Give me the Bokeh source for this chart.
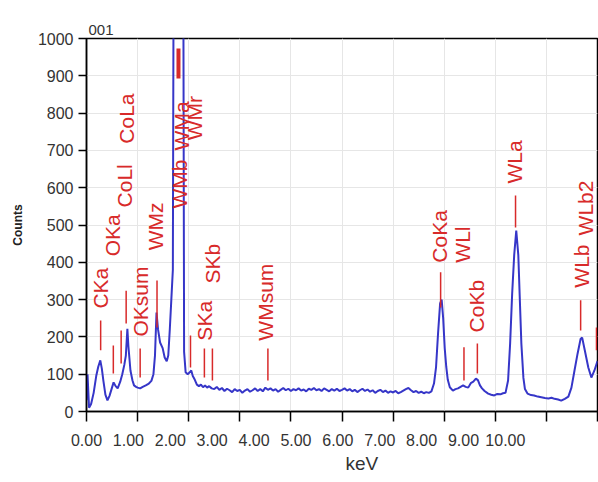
from math import pi
from bokeh.plotting import figure
from bokeh.models import Range1d, LinearAxis, FixedTicker, Title
from bokeh.core.properties import value
from bokeh.embed import file_html
from bokeh.resources import INLINE

# ---------------- data ----------------
lo_kev = [0.00, 0.02, 0.05, 0.09, 0.14, 0.19, 0.23, 0.27, 0.30, 0.33,
          0.37, 0.41, 0.45, 0.49, 0.53, 0.57, 0.61, 0.66, 0.70, 0.74,
          0.77, 0.80, 0.82, 0.86, 0.90, 0.93, 0.97, 1.00, 1.05, 1.10,
          1.16, 1.22, 1.27, 1.31, 1.34, 1.37, 1.40, 1.44, 1.49, 1.53,
          1.57, 1.60, 1.63, 1.66, 1.69, 1.71, 1.74, 1.78, 1.82, 1.86,
          1.89, 1.91, 1.94, 1.98, 2.02, 2.05, 2.08, 2.12, 2.16, 2.20,
          2.24, 2.28, 2.32, 2.36, 2.40, 2.45, 2.50]
lo_counts = [30, 100, 10, 20, 50, 95, 120, 137, 115, 83,
             45, 30, 42, 60, 78, 68, 62, 80, 100, 125,
             150, 222, 175, 110, 83, 70, 66, 64, 62, 66,
             70, 75, 82, 100, 150, 265, 220, 185, 170, 145,
             135, 150, 220, 300, 380, 1500, 4000, 6000, 5500, 3500,
             1500, 160, 105, 100, 105, 110, 95, 85, 72, 68,
             72, 65, 70, 64, 68, 62, 60]

bg_counts = [66, 58, 63, 55, 61, 57, 52, 60, 55, 58,
             50, 56, 60, 53, 57, 62, 55, 60, 54, 64,
             58, 62, 56, 60, 53, 58, 63, 57, 61, 55,
             60, 57, 62, 56, 59, 54, 61, 58, 63, 57,
             60, 55, 62, 58, 54, 60, 56, 61, 55, 58,
             62, 56, 60, 54, 58, 52, 57, 61, 55, 59,
             53, 57, 50, 55, 58, 52, 56, 50, 54, 51,
             55, 49, 52, 56, 60, 63, 57, 52, 55, 50,
             53, 49, 52, 50, 54]
bg_kev = [round(2.55 + 0.05 * i, 2) for i in range(len(bg_counts))]

hi_kev = [6.80, 6.84, 6.88, 6.92, 6.95, 6.98, 7.01, 7.04, 7.07, 7.11,
          7.17, 7.22, 7.27, 7.32, 7.37, 7.42, 7.47, 7.52, 7.57, 7.62,
          7.66, 7.70, 7.74, 7.79, 7.86, 7.92, 7.98, 8.04, 8.10, 8.15,
          8.20, 8.25, 8.29, 8.33, 8.37, 8.41, 8.45, 8.48, 8.51, 8.55,
          8.58, 8.63, 8.70, 8.76, 8.83, 8.90, 8.97, 9.04, 9.10, 9.16,
          9.23, 9.29, 9.36, 9.43, 9.49, 9.55, 9.61, 9.67, 9.70, 9.75,
          9.82, 9.88, 9.94, 10.0]
hi_counts = [75, 118, 210, 290, 300, 250, 170, 120, 85, 65,
             56, 60, 62, 66, 70, 66, 64, 76, 80, 88,
             84, 70, 62, 55, 48, 45, 43, 47, 46, 49,
             50, 83, 182, 316, 420, 485, 420, 300, 182, 90,
             60, 48, 44, 43, 40, 38, 36, 35, 37, 34,
             32, 29, 34, 40, 64, 110, 155, 195, 198, 165,
             118, 91, 110, 135]

marker_names = ["CKa", "OKa", "CoLl", "CoLa", "OKsum", "WMz", "WMa", "WMr", "SKa",
                "SKb", "WMsum", "CoKa", "WLl", "CoKb", "WLa", "WLb", "WLb2"]
marker_kev = [0.277, 0.525, 0.678, 0.776, 1.05, 1.38, 1.80, 2.035, 2.307,
              2.464, 3.55, 6.93, 7.387, 7.649, 8.396, 9.67, 9.98]
marker_top = [244, 177, 217, 324, 169, 351, 973, 204, 169,
              169, 169, 373, 172, 182, 579, 298, 225]
marker_bottom = [164, 102, 129, 236, 91, 225, 893, 118, 91,
                 83, 83, 279, 83, 102, 493, 217, 164]
strong_markers = ["WMa"]

label_names = ["CKa", "OKa", "CoLl", "CoLa", "OKsum", "WMz", "WMb", "WMa", "WMr",
               "SKa", "SKb", "WMsum", "CoKa", "WLl", "CoKb", "WLa", "WLb", "WLb2"]
label_kev = [0.275, 0.51, 0.735, 0.79, 1.06, 1.35, 1.82, 1.86, 2.12,
             2.31, 2.47, 3.51, 6.90, 7.35, 7.63, 8.37, 9.69, 9.76]
label_base = [276, 416, 547, 718, 201, 432, 544, 700, 727,
              190, 343, 190, 399, 399, 212, 611, 332, 472]

kev_ticks = list(range(0, 11))
count_ticks = list(range(0, 1001, 100))
tick_labels = ["0.00", "1.00", "2.00", "3.00", "4.00", "5.00",
               "6.00", "7.00", "8.00", "9.00", "10.00"]
title_text = "001"
x_title = "keV"
y_title = "Counts"

# ---------------- styling ----------------
FONT = "Liberation Sans"
RED = "#d82a2a"
BLUE = "#3636c8"
GRAY = "#333333"

kev = lo_kev + bg_kev + hi_kev
counts = lo_counts + bg_counts + hi_counts

p = figure(width=598, height=482, output_backend="svg", toolbar_location=None,
           x_range=Range1d(0, 10), y_range=Range1d(0, 1000),
           min_border_left=86, min_border_right=1, min_border_top=38,
           min_border_bottom=71)
p.extra_x_ranges = {"lab": Range1d(-0.001, 12.2)}

p.title.text = title_text
p.title.align = "left"
p.title.offset = 2
p.title.standoff = 7
p.title.text_font = FONT
p.title.text_font_size = "15px"
p.title.text_font_style = "normal"
p.title.text_color = GRAY

p.outline_line_color = "black"
p.outline_line_width = 1.5
p.background_fill_color = "white"
p.border_fill_color = "white"

p.xgrid.ticker = FixedTicker(ticks=kev_ticks)
p.ygrid.ticker = FixedTicker(ticks=count_ticks)
p.xgrid.grid_line_color = "#e6e6e6"
p.ygrid.grid_line_color = "#e6e6e6"

# x axis carrying the tick marks
xa = p.xaxis[0]
xa.ticker = FixedTicker(ticks=kev_ticks)
xa.axis_line_color = "black"
xa.axis_line_width = 1.5
xa.major_tick_line_color = "black"
xa.major_tick_line_width = 1.5
xa.major_tick_in = 0
xa.major_tick_out = 10
xa.minor_tick_line_color = None
xa.major_label_text_color = None
xa.major_label_text_font_size = "1px"
xa.major_label_standoff = 0

# x axis carrying the (compressed) tick labels, as in the reference
xl = LinearAxis(x_range_name="lab", ticker=FixedTicker(ticks=kev_ticks),
                major_label_overrides={t: s for t, s in zip(kev_ticks, tick_labels)})
xl.axis_line_color = None
xl.major_tick_line_color = None
xl.minor_tick_line_color = None
xl.major_tick_in = 0
xl.major_tick_out = 0
xl.major_label_standoff = 12
xl.major_label_text_font = FONT
xl.major_label_text_font_size = "16px"
xl.major_label_text_color = GRAY
p.add_layout(xl, "below")

p.add_layout(Title(text=x_title, align="left", offset=259, standoff=4,
                   text_font=FONT, text_font_size="19px", text_font_style="normal",
                   text_color=GRAY), "below")

ya = p.yaxis[0]
ya.ticker = FixedTicker(ticks=count_ticks)
ya.axis_line_color = "black"
ya.axis_line_width = 1.5
ya.major_tick_line_color = "black"
ya.major_tick_line_width = 1.5
ya.major_tick_in = 0
ya.major_tick_out = 8
ya.minor_tick_line_color = None
ya.major_label_standoff = 5
ya.major_label_text_font = FONT
ya.major_label_text_font_size = "16px"
ya.major_label_text_color = GRAY
ya.axis_label = y_title
ya.axis_label_text_font = FONT
ya.axis_label_text_font_size = "12px"
ya.axis_label_text_font_style = "bold"
ya.axis_label_text_color = "#222222"
ya.axis_label_standoff = 10

# spectrum
p.line(kev, counts, line_color=BLUE, line_width=2)

# peak markers
norm = [i for i, n in enumerate(marker_names) if n not in strong_markers]
strong = [i for i, n in enumerate(marker_names) if n in strong_markers]
p.segment(x0=[marker_kev[i] for i in norm], y0=[marker_bottom[i] for i in norm],
          x1=[marker_kev[i] for i in norm], y1=[marker_top[i] for i in norm],
          line_color=RED, line_width=1.5)
p.segment(x0=[marker_kev[i] for i in strong], y0=[marker_bottom[i] for i in strong],
          x1=[marker_kev[i] for i in strong], y1=[marker_top[i] for i in strong],
          line_color=RED, line_width=4)

# peak labels
p.text(x=label_kev, y=label_base, text=label_names, angle=pi / 2,
       text_align="left", text_baseline="middle", text_color=RED,
       text_font=value(FONT), text_font_size="21px")

open("out.html", "w").write(file_html(p, INLINE))
